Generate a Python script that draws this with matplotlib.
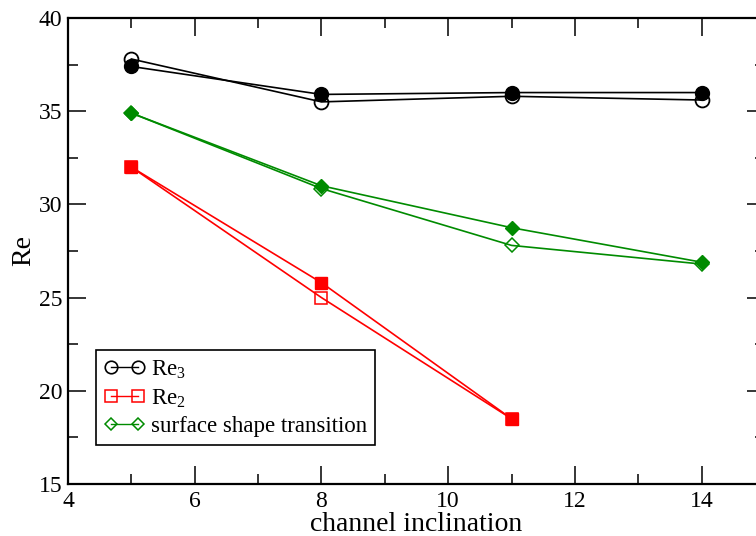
import matplotlib.pyplot as plt
from matplotlib.lines import Line2D

plt.rcParams['font.family'] = ['Liberation Serif', 'DejaVu Serif']
plt.rcParams['mathtext.fontset'] = 'custom'
plt.rcParams['mathtext.rm'] = 'Liberation Serif'
plt.rcParams['mathtext.it'] = 'Liberation Serif:italic'

# data
incl = [5, 8, 11, 14]
re3_open = [37.8, 35.5, 35.8, 35.6]
re3_filled = [37.4, 35.9, 36.0, 36.0]
incl_re2 = [5, 8, 11]
re2_open = [32.0, 25.0, 18.5]
re2_filled = [32.0, 25.8, 18.5]
sst_open = [34.9, 30.85, 27.8, 26.8]
sst_filled = [34.9, 31.0, 28.75, 26.9]

green = '#008b00'

fig = plt.figure(figsize=(7.56, 5.36), dpi=100)
ax = fig.add_axes([68 / 756, 52 / 536, 697 / 756, 466 / 536])

lw = 1.2
ax.plot(incl, re3_open, color='black', lw=lw, marker='o', ms=10, mfc='none', mew=1.3)
ax.plot(incl, re3_filled, color='black', lw=lw, marker='o', ms=10, mfc='black')
ax.plot(incl_re2, re2_open, color='red', lw=lw, marker='s', ms=8.5, mfc='none', mew=1.1)
ax.plot(incl_re2, re2_filled, color='red', lw=lw, marker='s', ms=8.5, mfc='red')
ax.plot(incl, sst_open, color=green, lw=lw, marker='D', ms=7, mfc='none', mew=1.1)
ax.plot(incl, sst_filled, color=green, lw=lw, marker='D', ms=7, mfc=green)

ax.set_xlim(4, 15)
ax.set_ylim(15, 40)
ax.set_xticks([4, 6, 8, 10, 12, 14])
ax.set_xticks([5, 7, 9, 11, 13], minor=True)
ax.set_yticks([15, 20, 25, 30, 35, 40])
ax.set_yticks([17.5, 22.5, 27.5, 32.5, 37.5], minor=True)
ax.tick_params(which='both', direction='in', top=True, right=True, width=1.1)
ax.tick_params(which='major', length=13, labelsize=17)
ax.tick_params(axis='x', which='major', pad=5)
ax.tick_params(axis='y', which='major', pad=4)
ax.tick_params(which='minor', length=7)
for s in ax.spines.values():
    s.set_linewidth(1.6)

ax.set_xlabel('channel inclination', fontsize=20, labelpad=0)
ax.set_ylabel('Re', fontsize=20, labelpad=2)

handles = [
    Line2D([], [], color='black', lw=1, marker='o', ms=9, mfc='none', mew=1.2),
    Line2D([], [], color='red', lw=1, marker='s', ms=8, mfc='none', mew=1.1),
    Line2D([], [], color=green, lw=1, marker='D', ms=6.5, mfc='none', mew=1.1),
]
leg = ax.legend(handles, ['Re$_{3}$', 'Re$_{2}$', 'surface shape transition'],
                loc='lower left', bbox_to_anchor=(96 / 756, 91 / 536), bbox_transform=fig.transFigure,
                numpoints=2, fontsize=16.5, fancybox=False, framealpha=1, edgecolor='black',
                handlelength=1.8, handletextpad=0.25, labelspacing=0.28, borderpad=0.35,
                borderaxespad=0)
leg.get_frame().set_linewidth(1.2)

fig.savefig('out.png', dpi=100)
